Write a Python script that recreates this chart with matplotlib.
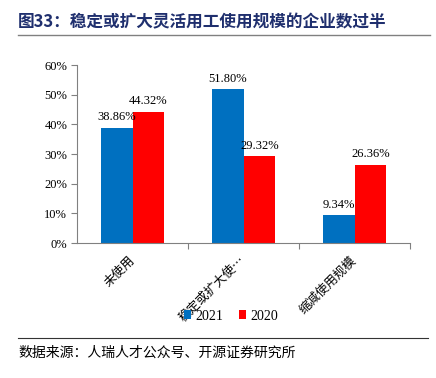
import matplotlib.pyplot as plt
import numpy as np
from matplotlib.lines import Line2D

cats = ["未使用", "稳定或扩大使…", "缩减使用规模"]
v2021 = [38.86, 51.80, 9.34]
v2020 = [44.32, 29.32, 26.36]

cjk = ["Noto Sans CJK SC", "DejaVu Sans"]
serif = ["Liberation Serif", "Noto Sans CJK SC"]

fig = plt.figure(figsize=(4.36, 3.78), dpi=100)
ax = fig.add_axes([77/436, 1-243/378, (410-77)/436, (243-65)/378])

x = np.arange(len(cats))
w = 0.285
b1 = ax.bar(x - w/2, v2021, w, color="#0070C0", label="2021")
b2 = ax.bar(x + w/2, v2020, w, color="#FF0000", label="2020")

for bars, vals in ((b1, v2021), (b2, v2020)):
    for r, v in zip(bars, vals):
        ax.text(r.get_x() + r.get_width()/2, v + 1.5, "%.2f%%" % v,
                ha="center", va="bottom", fontsize=9, family=serif)

ax.set_xlim(-0.5, 2.5)
ax.set_ylim(0, 60)
ax.set_yticks(range(0, 61, 10))
ax.set_yticklabels(["%d%%" % t for t in range(0, 61, 10)], family=serif, fontsize=9)
ax.set_xticks([0.5, 1.5, 2.5], minor=False)
ax.set_xticklabels([])
ax.set_xticks(x, minor=True)
ax.set_xticklabels(cats, minor=True, rotation=45, ha="right", va="center",
                   rotation_mode="anchor", family=cjk, fontsize=9)
ax.tick_params(axis="x", which="minor", length=0, pad=11)
ax.tick_params(axis="x", which="major", length=4, color="#808080")
ax.tick_params(axis="y", length=4, color="#808080", pad=3)
for s in ("top", "right"):
    ax.spines[s].set_visible(False)
for s in ("left", "bottom"):
    ax.spines[s].set_color("#808080")

ax.legend(loc="center", bbox_to_anchor=(231/436, 1-316/378), bbox_transform=fig.transFigure,
          ncol=2, frameon=False, handlelength=0.55, handleheight=0.55, handletextpad=0.3,
          columnspacing=1.1, prop={"family": serif, "size": 10})

fig.text(18/436, 1-22/378, "图33：稳定或扩大灵活用工使用规模的企业数过半", family=cjk,
         fontsize=12, fontweight="bold", color="#1F2F6E", va="center", ha="left")
fig.add_artist(Line2D([18/436, 430/436], [1-35/378, 1-35/378], color="#808080", lw=1,
                      transform=fig.transFigure))
fig.add_artist(Line2D([18/436, 428/436], [1-338/378, 1-338/378], color="#333333", lw=0.8,
                      transform=fig.transFigure))
fig.text(18/436, 1-353/378, "数据来源：人瑞人才公众号、开源证券研究所", family=cjk,
         fontsize=10, va="center", ha="left")

fig.savefig("out.png", dpi=100)
